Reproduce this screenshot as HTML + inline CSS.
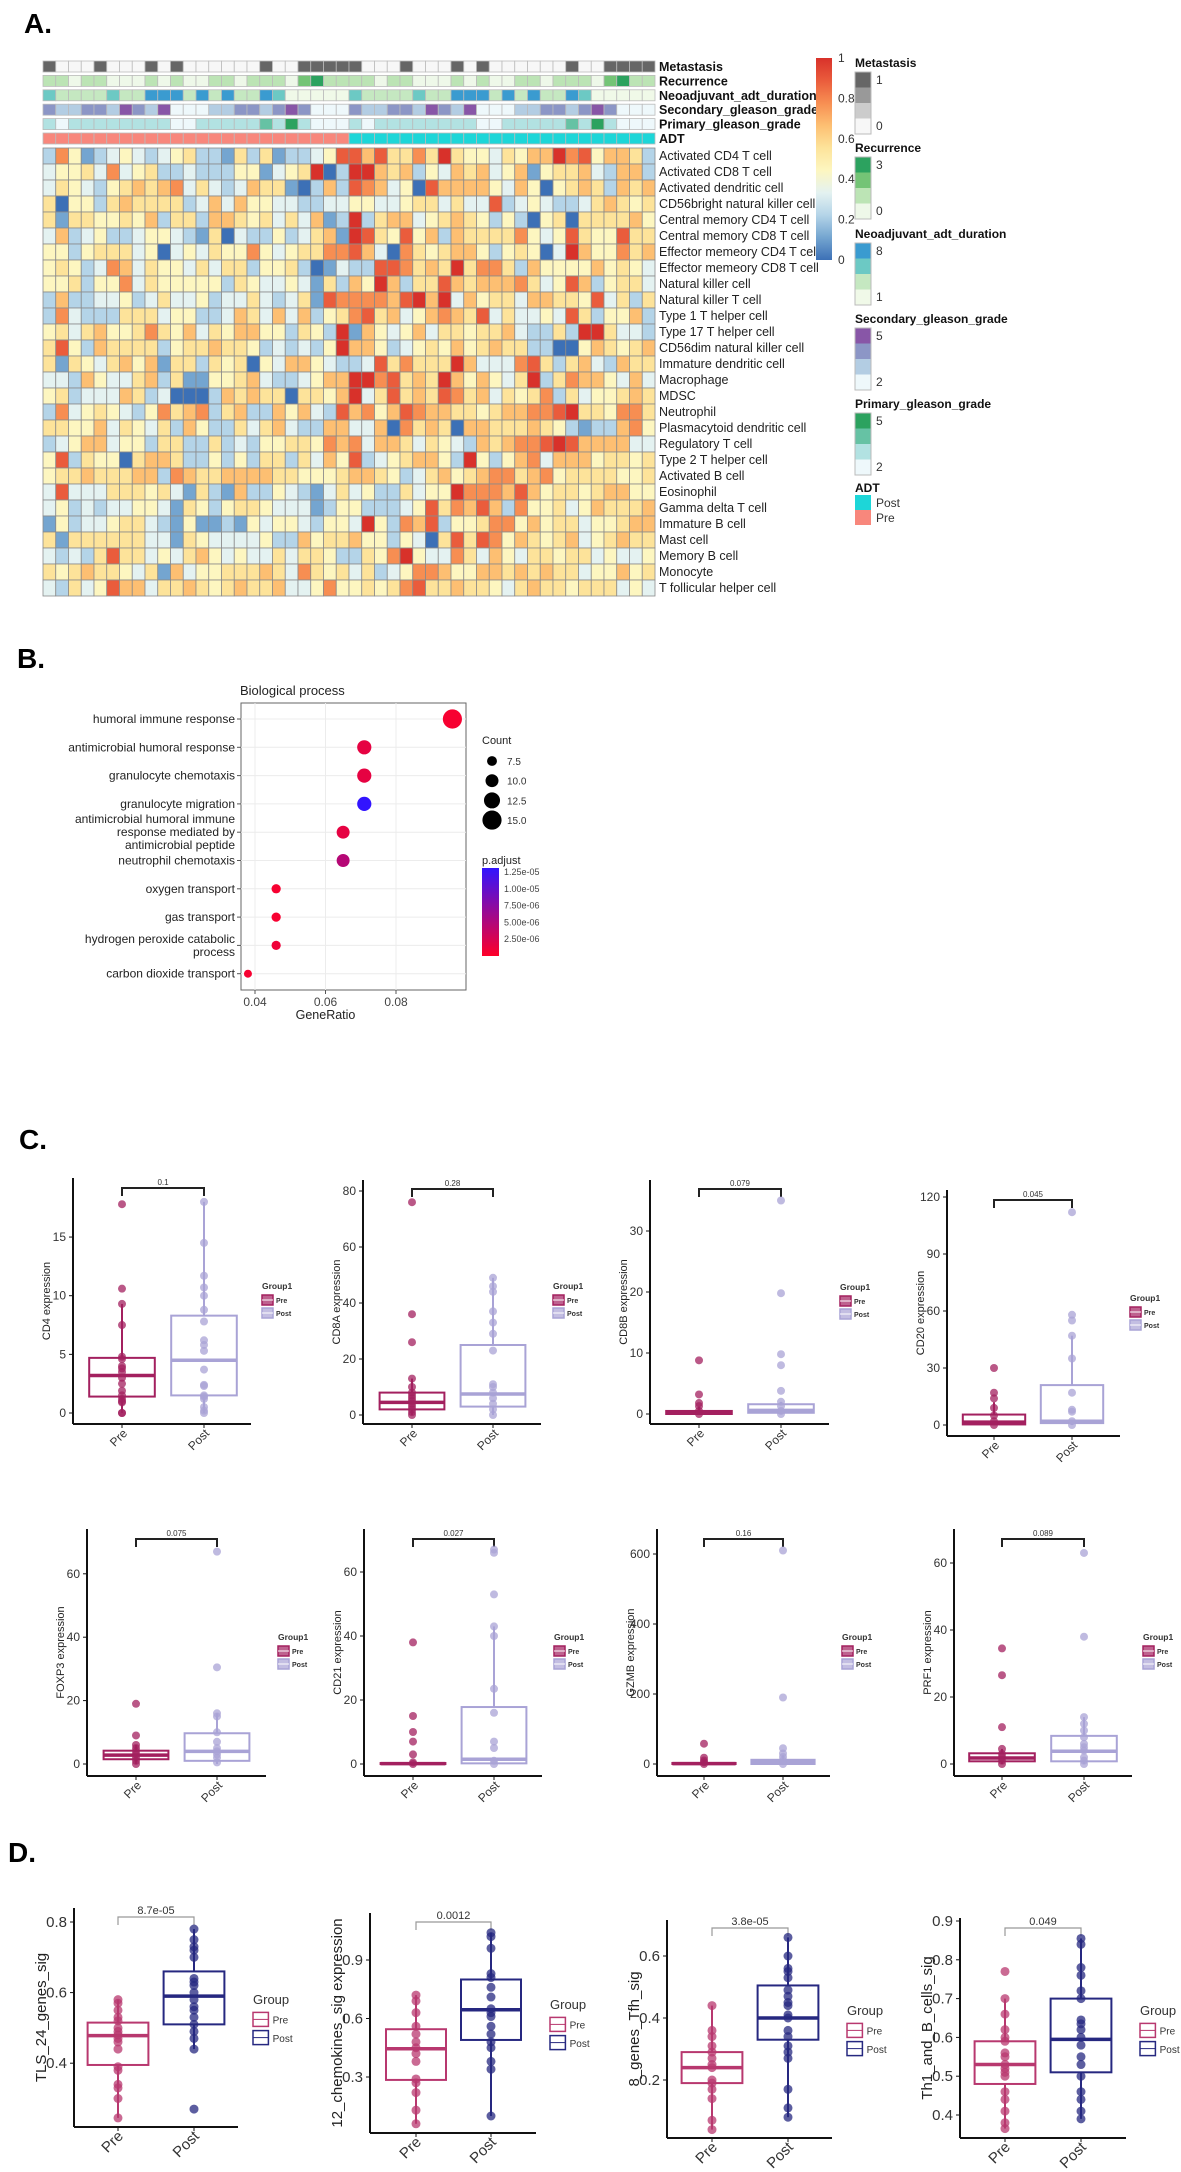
<!DOCTYPE html>
<html><head><meta charset="utf-8"><title>Immune infiltration figure</title>
<style>
html,body{margin:0;padding:0;background:#fff;}
svg{display:block;font-family:"Liberation Sans",Arial,sans-serif;}
</style></head>
<body>
<svg id="fig" width="1181" height="2172" viewBox="0 0 1181 2172" xmlns="http://www.w3.org/2000/svg">
<text x="24" y="33" font-size="28" font-weight="bold">A.</text>
<text x="17" y="668" font-size="28" font-weight="bold">B.</text>
<text x="19" y="1149" font-size="28" font-weight="bold">C.</text>
<text x="8" y="1862" font-size="28" font-weight="bold">D.</text>
</svg>
<script>
// ---------- Panel A data ----------
const hmRows = ["Activated CD4 T cell","Activated CD8 T cell","Activated dendritic cell","CD56bright natural killer cell","Central memory CD4 T cell","Central memory CD8 T cell","Effector memeory CD4 T cell","Effector memeory CD8 T cell","Natural killer cell","Natural killer T cell","Type 1 T helper cell","Type 17 T helper cell","CD56dim natural killer cell","Immature dendritic cell","Macrophage","MDSC","Neutrophil","Plasmacytoid dendritic cell","Regulatory T cell","Type 2 T helper cell","Activated B cell","Eosinophil","Gamma delta T cell","Immature  B cell","Mast cell","Memory B cell","Monocyte","T follicular helper cell"];
const hmValues = [
"27412343 23452215 25122348 86855759 54435466 97846652",
"34453734 52232224 41345902 99656243 65634614 55632662",
"35432456 56735323 65510262 87634086 66643640 45652656",
"50442565 55523636 44332233 44334553 53382343 22356545",
"51554454 62552665 45353612 92566345 65424204 50555564",
"36234223 44321503 22423561 98548462 65555743 48544855",
"44245553 40343544 74345577 86307545 66424540 39644756",
"45423763 54435355 24452013 22887565 95775264 44464543",
"44524473 54444425 43343152 64962558 65666753 48624553",
"26223342 35334233 53235187 77768969 36455366 55483525",
"27322255 53442236 53636245 78563467 65835334 38524462",
"45356445 75463546 64425429 16434635 54556322 52995332",
"58426555 52455655 42323249 66423454 64565522 00465456",
"51543564 61552545 04366432 23857555 96333785 25632655",
"33264335 62511445 63223466 99785659 64643592 57664363",
"45233365 23000265 65505546 93585658 75635457 25344565",
"27345432 47567256 22646328 67468766 55456677 89554775",
"55446354 35264225 35632266 33607565 06655565 42122674",
"23466344 25522523 24455476 73665354 32656778 98666633",
"48254405 66522424 25525364 82345664 29424673 66645545",
"45565556 62765566 66554445 66542356 45677567 45555445",
"38333555 45315216 22432135 34225344 97776864 55456644",
"34232334 43154245 54333124 42223485 76862744 53465556",
"14233455 32141121 43443244 39427682 44577464 55344566",
"51555555 33154333 34226455 64424305 85874654 56345655",
"32325855 34356434 33535542 25479433 75364355 45534334",
"54565543 51634455 56537545 35234776 44665656 55344645",
"32534866 35565456 55633474 45457855 65543565 54555343"];
const annNames = ["Metastasis","Recurrence","Neoadjuvant_adt_duration","Secondary_gleason_grade","Primary_gleason_grade","ADT"];
const annMetastasis = [1,0,0,0,1,0,0,0,1,0,1,0,0,0,0,0,0,1,0,0,1,1,1,1, 1,0,0,0,1,0,0,0,1,0,1,0,0,0,0,0,0,1,0,0,1,1,1,1];
const annRecurrence = [1,1,0,1,1,0,0,0,1,0,1,0,0,1,1,0,1,1,1,0,2,3,1,1, 1,1,0,1,1,0,0,0,1,0,1,0,0,1,1,0,1,1,1,0,2,3,1,1];
const annNeoadj = [2,1,1,1,1,2,1,1,3,3,3,1,3,1,3,1,1,3,2,0,0,0,0,0, 2,1,1,1,1,2,1,1,3,3,3,1,3,1,3,1,1,3,2,0,0,0,0,0];
const annSecondary = [2,1,1,2,2,1,3,2,1,3,0,0,0,1,1,2,2,1,2,3,2,0,0,0, 2,1,1,2,2,1,3,2,1,3,0,0,0,1,1,2,2,1,2,3,2,0,0,0];
const annPrimary = [1,0,1,1,1,1,1,1,1,1,0,0,1,1,1,1,1,2,1,3,1,0,0,0, 1,0,1,1,1,1,1,1,1,1,0,0,1,1,1,1,1,2,1,3,1,0,0,0];
const annADT = [0,0,0,0,0,0,0,0,0,0,0,0,0,0,0,0,0,0,0,0,0,0,0,0, 1,1,1,1,1,1,1,1,1,1,1,1,1,1,1,1,1,1,1,1,1,1,1,1];
const cbTicks = [0,0.2,0.4,0.6,0.8,1];
const legMetastasisLabels = ["1","0"];
const legRecurrenceLabels = ["3","0"];
const legNeoadjLabels = ["8","1"];
const legSecondaryLabels = ["5","2"];
const legPrimaryLabels = ["5","2"];

// ---------- Panel B data ----------
const bpTerms = [["humoral immune response"],["antimicrobial humoral response"],["granulocyte chemotaxis"],["granulocyte migration"],["antimicrobial humoral immune","response mediated by","antimicrobial peptide"],["neutrophil chemotaxis"],["oxygen transport"],["gas transport"],["hydrogen peroxide catabolic","process"],["carbon dioxide transport"]];
const bpRatio = [0.096,0.071,0.071,0.071,0.065,0.065,0.046,0.046,0.046,0.038];
const bpCount = [15,11,11,11,10,10,7,7,7,6];
const bpPadj = [5e-7,1.5e-6,1.5e-6,1.25e-5,1.5e-6,4.5e-6,5e-7,5e-7,1e-6,5e-7];
const bpXTicks = [0.04,0.06,0.08];
const bpCountLegend = [7.5,10.0,12.5,15.0];
const bpPadjLegend = [1.25e-5,1.0e-5,7.5e-6,5.0e-6,2.5e-6];

// ---------- Panel C data ----------
const cd4Pre = [17.8,10.6,9.3,7.5,4.8,4.6,4.0,3.8,3.5,3.0,2.5,1.9,1.5,1.2,1.0,0.9,0,0];
const cd4Post = [18,14.5,11.7,10.7,10,8.8,7.8,6.2,5.8,5.3,3.7,2.4,2.3,1.5,1.4,1.2,0.5,0.2,0];
const cd4PreBox = [0,1.4,3.2,4.7,9.3];
const cd4PostBox = [0,1.5,4.5,8.3,18];
const cd4Ticks = [0,5,10,15];
const cd8aPre = [76,36,26,13,10,8,7,6,5,4,3,2,1,0];
const cd8aPost = [49,46,44,37,33,29,23,11,10,8,6,4,2,0];
const cd8aPreBox = [0,2,4.5,8,13];
const cd8aPostBox = [0,3,7.5,25,49];
const cd8aTicks = [0,20,40,60,80];
const cd8bPre = [8.8,3.2,1.8,1.3,0.5,0];
const cd8bPost = [35,19.8,9.8,8,3.8,2,1.3,0.5,0];
const cd8bPreBox = [0,0,0.2,0.5,1.2];
const cd8bPostBox = [0,0.2,0.6,1.6,2];
const cd8bTicks = [0,10,20,30];
const cd20Pre = [30,17,14,9,5,2,0];
const cd20Post = [112,58,55,47,35,17,8,7,2,0];
const cd20PreBox = [0,0.3,1.5,5.5,12];
const cd20PostBox = [0,1,2,21,47];
const cd20Ticks = [0,30,60,90,120];
const foxp3Pre = [19,9,6,5,4,3,2,1,0];
const foxp3Post = [67,30.5,16,15,10,7,5,4,3,2,0.5];
const foxp3PreBox = [0,1.5,2.8,4.2,6];
const foxp3PostBox = [0,1,4,9.7,16];
const foxp3Ticks = [0,20,40,60];
const cd21Pre = [38,15,10,7,3,0.5,0];
const cd21Post = [67,66,53,43,40,23.5,16,7,5,1,0];
const cd21PreBox = [0,0,0.1,0.3,0.3];
const cd21PostBox = [0,0.2,1.5,17.8,43];
const cd21Ticks = [0,20,40,60];
const gzmbPre = [58,18,10,5,0];
const gzmbPost = [610,190,45,30,20,10,0];
const gzmbPreBox = [0,0,1,3,6];
const gzmbPostBox = [0,0,5,12,25];
const gzmbTicks = [0,200,400,600];
const prf1Pre = [34.5,26.5,11,4.5,3,2,1,0];
const prf1Post = [63,38,14,12,10,8,6,5,4,2,1,0];
const prf1PreBox = [0,0.8,1.8,3.2,4.5];
const prf1PostBox = [0,0.8,3.8,8.4,14];
const prf1Ticks = [0,20,40,60];

// ---------- Panel D data ----------
const tlsPre = [0.58,0.57,0.55,0.53,0.52,0.50,0.49,0.48,0.47,0.46,0.44,0.39,0.38,0.34,0.33,0.30,0.245];
const tlsPost = [0.78,0.75,0.73,0.72,0.70,0.64,0.63,0.62,0.60,0.58,0.56,0.55,0.53,0.51,0.49,0.47,0.44,0.27];
const tlsPreBox = [0.245,0.395,0.478,0.515,0.58];
const tlsPostBox = [0.44,0.51,0.59,0.66,0.78];
const tlsTicks = [0.4,0.6,0.8];
const chemPre = [0.72,0.69,0.63,0.56,0.52,0.48,0.45,0.42,0.38,0.29,0.27,0.22,0.13,0.06];
const chemPost = [1.04,1.02,0.96,0.83,0.81,0.76,0.71,0.65,0.63,0.61,0.56,0.52,0.48,0.45,0.38,0.34,0.10];
const chemPreBox = [0.06,0.285,0.445,0.545,0.72];
const chemPostBox = [0.10,0.49,0.645,0.80,1.04];
const chemTicks = [0.3,0.6,0.9];
const tfhPre = [0.44,0.36,0.34,0.31,0.29,0.27,0.25,0.24,0.20,0.19,0.17,0.14,0.07,0.04];
const tfhPost = [0.66,0.60,0.56,0.55,0.53,0.49,0.47,0.45,0.44,0.41,0.40,0.36,0.34,0.31,0.29,0.27,0.17,0.11,0.08];
const tfhPreBox = [0.04,0.19,0.24,0.29,0.44];
const tfhPostBox = [0.08,0.33,0.40,0.505,0.66];
const tfhTicks = [0.2,0.4,0.6];
const th1Pre = [0.77,0.70,0.66,0.62,0.60,0.59,0.56,0.55,0.53,0.52,0.51,0.50,0.46,0.44,0.41,0.38,0.365];
const th1Post = [0.855,0.84,0.78,0.76,0.72,0.70,0.645,0.635,0.62,0.60,0.58,0.55,0.53,0.50,0.46,0.44,0.41,0.39];
const th1PreBox = [0.365,0.48,0.53,0.59,0.70];
const th1PostBox = [0.39,0.51,0.595,0.70,0.855];
const th1Ticks = [0.4,0.5,0.6,0.7,0.8,0.9];

// ---------- helpers ----------
const svg = document.getElementById('fig');
const NS = 'http://www.w3.org/2000/svg';
function mk(tag, attrs, parent){const e=document.createElementNS(NS,tag);for(const k in attrs)e.setAttribute(k,attrs[k]);(parent||svg).appendChild(e);return e;}
function txt(s, attrs, parent){const e=mk('text',attrs,parent);e.textContent=s;return e;}

// ---------- Panel A: heatmap ----------
const hmX0=43, cw=12.75, hmY0=148, rh=16;
const hmColors=['#3c70b6','#74a5d0','#b4d4e8','#e4f2f1','#fdf6c0','#fde39a','#fdbf72','#f78e52','#ea5c3c','#d8312a'];
const gA = mk('g',{});


hmValues.forEach((rowStr,r)=>{
  const vals=rowStr.replace(/ /g,'');
  for(let c=0;c<vals.length;c++){
    const cell=mk('rect',{x:hmX0+c*cw,y:hmY0+r*rh,width:cw,height:rh,fill:hmColors[+vals[c]],stroke:'#8a8a8a','stroke-width':0.8},gA);
    
    
  }
  const lab=txt(hmRows[r],{x:659,y:hmY0+r*rh+12,'font-size':12.5,fill:'#222'},gA);
  
  
});
const annData=[annMetastasis,annRecurrence,annNeoadj,annSecondary,annPrimary,annADT];
const annPal=[['#f7f7f7','#cccccc','#999999','#666666'].slice(0),['#eef8e9','#bce4b5','#74c476','#2ca25f'],['#f0f9e8','#c5e8c1','#6cc9c4','#3a9bd0'],['#eef8fb','#b3cde3','#8c96c6','#8856a7'],['#eef8fb','#b2e2e2','#66c2a4','#2ca25f'],['#f8877c','#1dd6d8']];
const metaPal=['#f7f7f7','#666666'];
annData.forEach((arr,i)=>{
  const y=61+i*14.4;
  arr.forEach((v,c)=>{
    const col = i===0 ? metaPal[v] : annPal[i][v];
    const cell=mk('rect',{x:hmX0+c*cw,y:y,width:cw,height:11,fill:col,stroke:'#bbbbbb','stroke-width':0.8},gA);
    
    
  });
  const lab=txt(annNames[i],{x:659,y:y+10,'font-size':12.5,'font-weight':'bold',fill:'#111'},gA);
  
  
});
// colorbar
const defs=mk('defs',{});
const lg=mk('linearGradient',{id:'rdylbu',x1:0,y1:1,x2:0,y2:0},defs);
['#3c70b6','#74a5d0','#b4d4e8','#e4f2f1','#fdf6c0','#fde39a','#fdbf72','#f78e52','#ea5c3c','#d8312a'].forEach((c,i)=>mk('stop',{offset:(i/9),'stop-color':c},lg));
const cb=mk('rect',{x:816,y:58,width:16,height:202,fill:'url(#rdylbu)'});


cbTicks.forEach(t=>{
  const l=txt(String(t),{x:838,y:260-t*202+4,'font-size':12,fill:'#333'});
  
  
});
// annotation legends
const legDefs=[["Metastasis",['#666666','#999999','#cccccc','#f7f7f7'],legMetastasisLabels,62],["Recurrence",['#2ca25f','#74c476','#bce4b5','#eef8e9'],legRecurrenceLabels,147],["Neoadjuvant_adt_duration",['#3a9bd0','#6cc9c4','#c5e8c1','#f0f9e8'],legNeoadjLabels,233],["Secondary_gleason_grade",['#8856a7','#8c96c6','#b3cde3','#eef8fb'],legSecondaryLabels,318],["Primary_gleason_grade",['#2ca25f','#66c2a4','#b2e2e2','#eef8fb'],legPrimaryLabels,403]];
legDefs.forEach(d=>{
  const g=mk('g',{});
  
  
  txt(d[0],{x:855,y:d[3]+5,'font-size':12,'font-weight':'bold',fill:'#111'},g);
  d[1].forEach((c,k)=>mk('rect',{x:855,y:d[3]+10+k*15.5,width:16,height:15.5,fill:c},g));
  mk('rect',{x:855,y:d[3]+10,width:16,height:62,fill:'none',stroke:'#bbb','stroke-width':1},g);
  txt(d[2][0],{x:876,y:d[3]+22,'font-size':12,fill:'#333'},g);
  txt(d[2][1],{x:876,y:d[3]+68,'font-size':12,fill:'#333'},g);
});
const gADT=mk('g',{});


txt('ADT',{x:855,y:492,'font-size':12,'font-weight':'bold',fill:'#111'},gADT);
mk('rect',{x:855,y:495,width:16,height:15,fill:'#1dd6d8'},gADT);
mk('rect',{x:855,y:510,width:16,height:15,fill:'#f8877c'},gADT);
txt('Post',{x:876,y:507,'font-size':12,fill:'#333'},gADT);
txt('Pre',{x:876,y:522,'font-size':12,fill:'#333'},gADT);

// ---------- Panel B: dot plot ----------
const bL=241,bR=466,bT=703,bB=990,rowY0=719,rowStep=28.3;
const bx=v=>255+(v-0.04)/0.02*70.5;
const by=i=>rowY0+i*rowStep;
const br=c=>4+(c-6)*0.62;
function padjColor(p){const t=Math.min(1,Math.max(0,p/1.25e-5));const r=Math.round(255*(1-t)+50*t),g=Math.round(0+20*t),b=Math.round(40*(1-t)+255*t);return `rgb(${r},${g},${b})`;}
const gB=mk('g',{});


txt('Biological process',{x:240,y:695,'font-size':13,fill:'#222'},gB);
mk('rect',{x:bL,y:bT,width:bR-bL,height:bB-bT,fill:'#fff',stroke:'#666','stroke-width':1},gB);
bpXTicks.forEach(t=>{
  mk('line',{x1:bx(t),x2:bx(t),y1:bT,y2:bB,stroke:'#ececec','stroke-width':1},gB);
  mk('line',{x1:bx(t),x2:bx(t),y1:bB,y2:bB+4,stroke:'#555'},gB);
  const l=txt(t.toFixed(2),{x:bx(t),y:1006,'font-size':12,'text-anchor':'middle',fill:'#444'},gB);
  
  
});
txt('GeneRatio',{x:bx(0.06),y:1019,'font-size':12.5,'text-anchor':'middle',fill:'#222'},gB);
bpTerms.forEach((lines,i)=>{
  const y=by(i);
  mk('line',{x1:bL,x2:bR,y1:y,y2:y,stroke:'#ececec','stroke-width':1},gB);
  mk('line',{x1:bL-4,x2:bL,y1:y,y2:y,stroke:'#555'},gB);
  const n=lines.length;
  lines.forEach((s,k)=>{
    const l=txt(s,{x:bL-6,y:y+4+(k-(n-1)/2)*13,'font-size':12,'text-anchor':'end',fill:'#222'},gB);
    
    
  });
  const d=mk('circle',{cx:bx(bpRatio[i]),cy:y,r:br(bpCount[i]),fill:padjColor(bpPadj[i])},gB);
  
  
});
txt('Count',{x:482,y:744,'font-size':11,fill:'#222'},gB);
bpCountLegend.forEach((c,k)=>{
  const y=761+k*19.7;
  mk('circle',{cx:492,cy:y,r:br(c),fill:'#000'},gB);
  txt(c.toFixed(1),{x:507,y:y+4,'font-size':10,fill:'#333'},gB);
});
txt('p.adjust',{x:482,y:864,'font-size':11,fill:'#222'},gB);
const lg2=mk('linearGradient',{id:'padj',x1:0,y1:0,x2:0,y2:1},defs);
mk('stop',{offset:0,'stop-color':padjColor(1.3e-5)},lg2);
mk('stop',{offset:1,'stop-color':padjColor(0)},lg2);
mk('rect',{x:482,y:868,width:17,height:88,fill:'url(#padj)'},gB);
bpPadjLegend.forEach(p=>{
  const y=872+(1.25e-5-p)/2.5e-6*16.75;
  txt(p.toExponential(2).replace('e-','e-0'),{x:504,y:y+3,'font-size':9,fill:'#444'},gB);
});

// ---------- Box charts (C & D) ----------
function boxChart(o){
  const g=mk('g',{});
  
  
  const yv=v=>o.y0-(v-o.base)*o.unit;
  const D=o.big;
  // axes
  mk('line',{x1:o.ax,x2:o.ax,y1:o.top,y2:o.bot,stroke:'#111','stroke-width':2},g);
  mk('line',{x1:o.ax,x2:o.xend,y1:o.bot,y2:o.bot,stroke:'#111','stroke-width':2},g);
  o.ticks.forEach(t=>{
    mk('line',{x1:o.ax-4,x2:o.ax,y1:yv(t),y2:yv(t),stroke:'#111','stroke-width':1},g);
    const l=txt(String(t),{x:o.ax-7,y:yv(t)+(D?5:4),'font-size':D?15:12,'text-anchor':'end',fill:'#333'},g);
    
    
  });
  const yt=txt(o.ytitle,{x:0,y:0,'font-size':D?15:11,'text-anchor':'middle',fill:'#222',transform:`translate(${o.ax-(D?28:23)},${(o.top+o.bot)/2}) rotate(-90)`},g);
  
  
  [['Pre',o.px],['Post',o.qx]].forEach(([s,x])=>{
    mk('line',{x1:x,x2:x,y1:o.bot,y2:o.bot+4,stroke:'#111'},g);
    const l=txt(s,{x:0,y:0,'font-size':D?15:12,'text-anchor':'end',fill:'#333',transform:`translate(${x+6},${o.bot+10}) rotate(-45)`},g);
    
    
  });
  // bracket
  const byy=o.brY;
  mk('path',{d:`M${o.px},${byy+8}V${byy}H${o.qx}V${byy+8}`,fill:'none',stroke:D?'#999':'#222','stroke-width':D?1.2:2},g);
  const pl=txt(o.p,{x:(o.px+o.qx)/2,y:byy-3,'font-size':D?11:8,'text-anchor':'middle',fill:'#333'},g);
  
  
  // boxes
  const hw=(o.qx-o.px)*0.4;
  [[o.preBox,o.prePts,o.px,o.cPre,'pre'],[o.postBox,o.postPts,o.qx,o.cPost,'post']].forEach(([b,pts,x,c,nm])=>{
    const bg=mk('g',{},g);
    
    
    mk('line',{x1:x,x2:x,y1:yv(b[0]),y2:yv(b[1]),stroke:c,'stroke-width':2},bg);
    mk('line',{x1:x,x2:x,y1:yv(b[3]),y2:yv(b[4]),stroke:c,'stroke-width':2},bg);
    mk('rect',{x:x-hw,y:yv(b[3]),width:2*hw,height:Math.max(1,yv(b[1])-yv(b[3])),fill:'none',stroke:c,'stroke-width':2},bg);
    mk('line',{x1:x-hw,x2:x+hw,y1:yv(b[2]),y2:yv(b[2]),stroke:c,'stroke-width':3.5},bg);
    pts.forEach(v=>{
      const p=mk('circle',{cx:x,cy:yv(v),r:D?4.5:4,fill:c,'fill-opacity':0.75},bg);
      
      
    });
  });
  // legend
  const lgG=mk('g',{},g);
  
  
  const ls=D?1.4:1;
  txt(D?'Group':'Group1',{x:o.lx,y:o.ly,'font-size':D?13:8.5,'font-weight':D?'normal':'bold',fill:'#333'},lgG);
  [[o.cPre,'Pre'],[o.cPost,'Post']].forEach(([c,s],k)=>{
    const y=o.ly+6*ls+k*13*ls;
    mk('rect',{x:o.lx,y:y,width:11*ls,height:10*ls,fill:D?'#fff':c,'fill-opacity':D?1:0.7,stroke:c,'stroke-width':1.5},lgG);
    mk('line',{x1:o.lx,x2:o.lx+11*ls,y1:y+5*ls,y2:y+5*ls,stroke:D?c:'#fff','stroke-width':1},lgG);
    txt(s,{x:o.lx+14*ls,y:y+8*ls,'font-size':D?10:7,'font-weight':D?'normal':'bold',fill:'#333'},lgG);
  });
}
const cPre='#a3205f', cPost='#a9a3d6', dPre='#b8386f', dPost='#262880';
boxChart({name:'chart-cd4',ax:73,xend:251,top:1178,bot:1424,px:122,qx:204,y0:1413,base:0,unit:11.73,ticks:cd4Ticks,ytitle:'CD4 expression',brY:1188,p:'0.1',preBox:cd4PreBox,postBox:cd4PostBox,prePts:cd4Pre,postPts:cd4Post,cPre,cPost,lx:262,ly:1289});
boxChart({name:'chart-cd8a',ax:363,xend:541,top:1180,bot:1424,px:412,qx:493,y0:1415,base:0,unit:2.8,ticks:cd8aTicks,ytitle:'CD8A expression',brY:1189,p:'0.28',preBox:cd8aPreBox,postBox:cd8aPostBox,prePts:cd8aPre,postPts:cd8aPost,cPre,cPost,lx:553,ly:1289});
boxChart({name:'chart-cd8b',ax:650,xend:829,top:1180,bot:1424,px:699,qx:781,y0:1414,base:0,unit:6.1,ticks:cd8bTicks,ytitle:'CD8B expression',brY:1189,p:'0.079',preBox:cd8bPreBox,postBox:cd8bPostBox,prePts:cd8bPre,postPts:cd8bPost,cPre,cPost,lx:840,ly:1290});
boxChart({name:'chart-cd20',ax:947,xend:1120,top:1190,bot:1436,px:994,qx:1072,y0:1425,base:0,unit:1.9,ticks:cd20Ticks,ytitle:'CD20 expression',brY:1200,p:'0.045',preBox:cd20PreBox,postBox:cd20PostBox,prePts:cd20Pre,postPts:cd20Post,cPre,cPost,lx:1130,ly:1301});
boxChart({name:'chart-foxp3',ax:87,xend:266,top:1529,bot:1776,px:136,qx:217,y0:1764,base:0,unit:3.17,ticks:foxp3Ticks,ytitle:'FOXP3 expression',brY:1539,p:'0.075',preBox:foxp3PreBox,postBox:foxp3PostBox,prePts:foxp3Pre,postPts:foxp3Post,cPre,cPost,lx:278,ly:1640});
boxChart({name:'chart-cd21',ax:364,xend:542,top:1529,bot:1776,px:413,qx:494,y0:1764,base:0,unit:3.2,ticks:cd21Ticks,ytitle:'CD21 expression',brY:1539,p:'0.027',preBox:cd21PreBox,postBox:cd21PostBox,prePts:cd21Pre,postPts:cd21Post,cPre,cPost,lx:554,ly:1640});
boxChart({name:'chart-gzmb',ax:657,xend:830,top:1529,bot:1776,px:704,qx:783,y0:1764,base:0,unit:0.35,ticks:gzmbTicks,ytitle:'GZMB expression',brY:1539,p:'0.16',preBox:gzmbPreBox,postBox:gzmbPostBox,prePts:gzmbPre,postPts:gzmbPost,cPre,cPost,lx:842,ly:1640});
boxChart({name:'chart-prf1',ax:954,xend:1132,top:1529,bot:1776,px:1002,qx:1084,y0:1764,base:0,unit:3.35,ticks:prf1Ticks,ytitle:'PRF1 expression',brY:1539,p:'0.089',preBox:prf1PreBox,postBox:prf1PostBox,prePts:prf1Pre,postPts:prf1Post,cPre,cPost,lx:1143,ly:1640});
boxChart({big:true,name:'chart-tls',ax:74,xend:238,top:1908,bot:2127,px:118,qx:194,y0:1922,base:0.8,unit:353,ticks:tlsTicks,ytitle:'TLS_24_genes_sig',brY:1917,p:'8.7e-05',preBox:tlsPreBox,postBox:tlsPostBox,prePts:tlsPre,postPts:tlsPost,cPre:dPre,cPost:dPost,lx:253,ly:2004});
boxChart({big:true,name:'chart-chemokines',ax:370,xend:536,top:1913,bot:2133,px:416,qx:491,y0:1960,base:0.9,unit:195,ticks:chemTicks,ytitle:'12_chemokines_sig expression',brY:1922,p:'0.0012',preBox:chemPreBox,postBox:chemPostBox,prePts:chemPre,postPts:chemPost,cPre:dPre,cPost:dPost,lx:550,ly:2009});
boxChart({big:true,name:'chart-tfh',ax:667,xend:832,top:1920,bot:2138,px:712,qx:788,y0:1956,base:0.6,unit:310,ticks:tfhTicks,ytitle:'8_genes_Tfh_sig',brY:1928,p:'3.8e-05',preBox:tfhPreBox,postBox:tfhPostBox,prePts:tfhPre,postPts:tfhPost,cPre:dPre,cPost:dPost,lx:847,ly:2015});
boxChart({big:true,name:'chart-th1-b',ax:960,xend:1126,top:1918,bot:2138,px:1005,qx:1081,y0:1921,base:0.9,unit:388,ticks:th1Ticks,ytitle:'Th1_and_B_cells_sig',brY:1928,p:'0.049',preBox:th1PreBox,postBox:th1PostBox,prePts:th1Pre,postPts:th1Post,cPre:dPre,cPost:dPost,lx:1140,ly:2015});
</script>
</body></html>
